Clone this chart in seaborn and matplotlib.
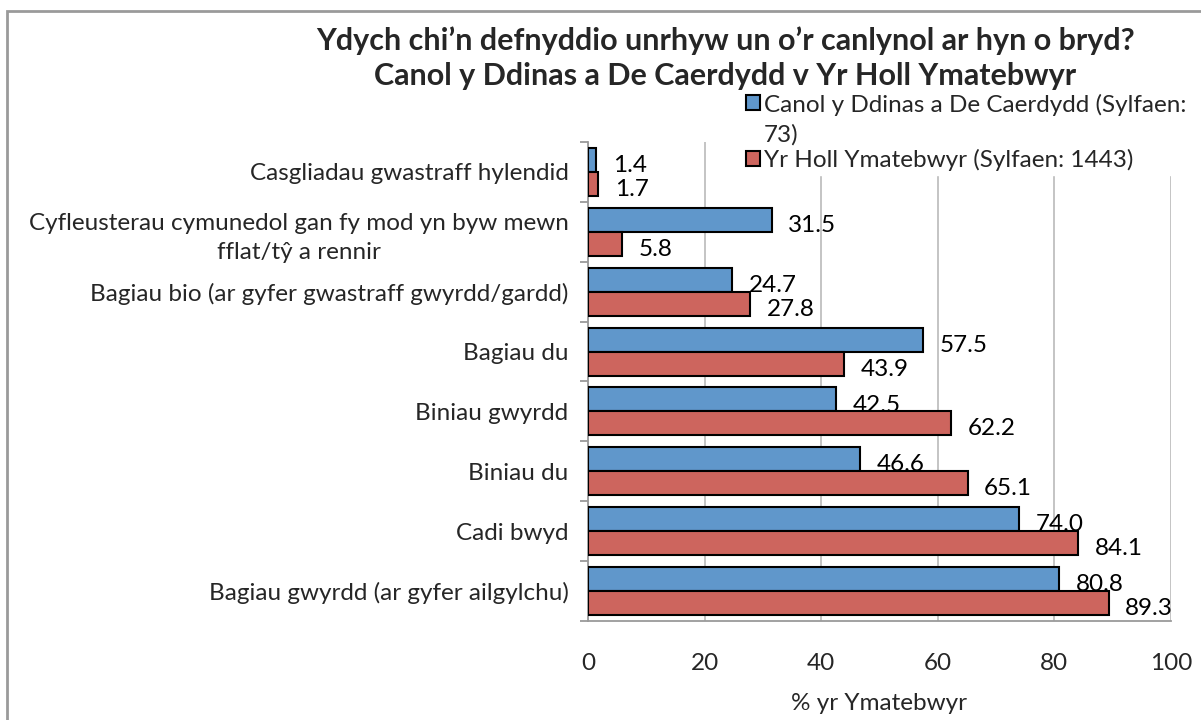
import pandas as pd
import numpy as np

import matplotlib
matplotlib.use("Agg")
import matplotlib.pyplot as plt
import seaborn as sns
from matplotlib.patches import Rectangle
from matplotlib.ticker import FixedLocator


categories = [
    'Casgliadau gwastraff hylendid',
    'Cyfleusterau cymunedol gan fy mod yn byw mewn\nfflat/tŷ a rennir',
    'Bagiau bio (ar gyfer gwastraff gwyrdd/gardd)',
    'Bagiau du',
    'Biniau gwyrdd',
    'Biniau du',
    'Cadi bwyd',
    'Bagiau gwyrdd (ar gyfer ailgylchu)',
]
canol = [1.4, 31.5, 24.7, 57.5, 42.5, 46.6, 74.0, 80.8]
holl = [1.7, 5.8, 27.8, 43.9, 62.2, 65.1, 84.1, 89.3]
series_names = ['Canol y Ddinas a De Caerdydd (Sylfaen:\n73)',
                'Yr Holl Ymatebwyr (Sylfaen: 1443)']
colors = ['#6097CB', '#CD655E']

df = pd.DataFrame({
    'cat': categories * 2,
    'val': canol + holl,
    'grp': [series_names[0]] * len(categories) + [series_names[1]] * len(categories),
})

sns.set_style('white')
plt.rcParams['font.family'] = ['Lato', 'DejaVu Sans']
FS = 17.5

fig = plt.figure(figsize=(12.01, 7.2), dpi=100)
ax = fig.add_axes([0.4896, 0.1375, 0.4854, 0.6653])

sns.barplot(data=df, y='cat', x='val', hue='grp', orient='h',
            palette=colors, saturation=1, edgecolor='black', linewidth=1.5,
            width=0.8, ax=ax, zorder=3)

# value labels, just right of each bar
for cont in ax.containers:
    for p, v in zip(cont.patches, cont.datavalues):
        ax.annotate(f'{v:.1f}', xy=(p.get_width(), p.get_y() + p.get_height() / 2),
                    xytext=(12, -4), textcoords='offset points',
                    ha='left', va='center', fontsize=FS, color='black', zorder=5)

ax.set_xlim(0, 100)
ax.set_ylim(len(categories) - 0.5, -0.5)
ax.set_xticks(np.arange(0, 101, 20))
ax.set_yticks(range(len(categories)), categories,
              multialignment='center', linespacing=1.5)
ax.grid(axis='x', color='#BFBFBF', linewidth=1.3, zorder=0)
ax.grid(axis='y', visible=False)
ax.set_ylabel('')
ax.set_xlabel('% yr Ymatebwyr', fontsize=FS, labelpad=14)

for s in ['top', 'right']:
    ax.spines[s].set_visible(False)
for s in ['left', 'bottom']:
    ax.spines[s].set_color('#9A9A9A')
    ax.spines[s].set_linewidth(1.3)

ax.tick_params(axis='x', length=6, width=1.3, color='#9A9A9A', labelsize=FS, pad=17)
ax.tick_params(axis='y', which='major', length=0, labelsize=FS, pad=14)
ax.yaxis.set_minor_locator(FixedLocator(np.arange(-0.5, len(categories), 1)))
ax.tick_params(axis='y', which='minor', length=6, width=1.3, color='#9A9A9A', left=True)

leg = ax.legend(loc='upper left', bbox_to_anchor=(742 / 1201, 1 - 90 / 720),
                bbox_transform=fig.transFigure, frameon=True, fontsize=FS,
                handlelength=0.6, handleheight=0.6, handletextpad=0.15,
                labelspacing=0.15, borderpad=0.15, borderaxespad=0)
leg.get_frame().set_edgecolor('white')
leg.get_frame().set_facecolor('white')
leg.get_frame().set_alpha(1)
for t in leg.get_texts():
    t.set_linespacing(1.45)
for h in leg.legend_handles:
    h.set_edgecolor('black')
    h.set_linewidth(1.5)
# keep the first square next to the first line of its wrapped label
h0 = leg.legend_handles[0]
h0.set_y(h0.get_y() + 12)

fig.text(0.604, 0.944, 'Ydych chi’n defnyddio unrhyw un o’r canlynol ar hyn o bryd?',
         ha='center', va='center', fontsize=22, fontweight='bold')
fig.text(0.604, 0.894, 'Canol y Ddinas a De Caerdydd v Yr Holl Ymatebwyr',
         ha='center', va='center', fontsize=22, fontweight='bold')

fig.patches.append(Rectangle((0.006, -0.02), 1.1, 1.005, transform=fig.transFigure,
                             fill=False, edgecolor='#9A9A9A', linewidth=2))

fig.savefig('out.png', dpi=100)
